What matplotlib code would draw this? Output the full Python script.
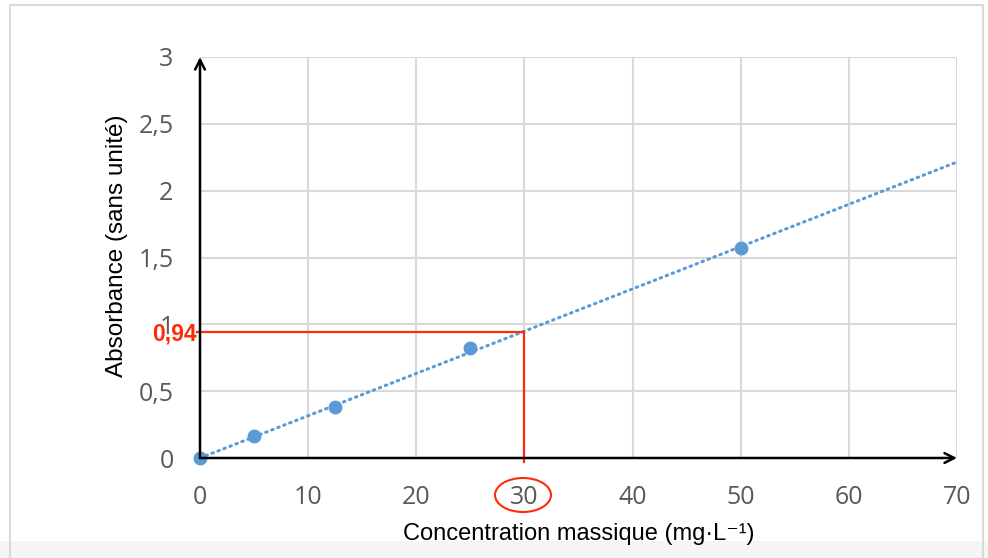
import numpy as np
import matplotlib
matplotlib.use("Agg")
import matplotlib.pyplot as plt
from matplotlib.patches import Ellipse, Rectangle

# Data
concentrations = [0, 5, 12.5, 25, 50]
absorbances = [0.0, 0.165, 0.38, 0.82, 1.57]
x_ticks = [0, 10, 20, 30, 40, 50, 60, 70]
y_ticks = [0, 0.5, 1, 1.5, 2, 2.5, 3]
y_tick_labels = ["0", "0,5", "1", "1,5", "2", "2,5", "3"]
read_conc = 30
read_abs = 0.94
read_label = "0,94"

blue = "#5b9bd5"
red = "#ff2a0a"
grid_c = "#d9d9d9"

fig = plt.figure(figsize=(9.88, 5.58), dpi=100)
W, H = 988, 558
ax = fig.add_axes([200 / W, 1 - 458 / H, (957 - 200) / W, (458 - 57) / H])

# frame and bottom band
fig.patches.append(Rectangle((0, 0), 1, 17 / H, transform=fig.transFigure,
                             facecolor="#f5f5f5", edgecolor="none", zorder=0))
fig.patches.append(Rectangle((10 / W, -0.05), (983 - 10) / W, 1.05 - 5 / H,
                             transform=fig.transFigure, facecolor="none",
                             edgecolor=grid_c, lw=1.5, zorder=1))

ax.set_xlim(0, 70)
ax.set_ylim(0, 3)
ax.set_xticks(x_ticks)
ax.set_yticks(y_ticks)
ax.set_yticklabels(y_tick_labels)
ax.grid(True, color=grid_c, lw=1.5)
ax.set_axisbelow(True)
for s in ax.spines.values():
    s.set_visible(False)
ax.tick_params(length=0, labelcolor="#595959", pad=0)
ax.tick_params(axis="x", pad=19.5)
ax.tick_params(axis="y", pad=19)
for lab in ax.get_xticklabels() + ax.get_yticklabels():
    lab.set_family("Open Sans")
    lab.set_fontsize(18)

# gridline at top/right
ax.axhline(3, color=grid_c, lw=1.5, zorder=0.5)
ax.axvline(70, color=grid_c, lw=1.5, zorder=0.5)

# trendline through origin (least squares)
xa = np.array(concentrations)
ya = np.array(absorbances)
slope = (xa * ya).sum() / (xa * xa).sum()
xt = np.array([0, 70])
ax.plot(xt, slope * xt, linestyle=(0, (0.5, 1.6)), color=blue, lw=2.2,
        dash_capstyle="round", zorder=3, clip_on=False)

ax.plot(concentrations, absorbances, "o", color=blue, ms=9, zorder=4, clip_on=False)

# axes arrows
ax.annotate("", xy=(0, 3), xytext=(0, 0),
            arrowprops=dict(arrowstyle="->,head_length=0.7,head_width=0.35", color="black", lw=1.8,
                            shrinkA=0, shrinkB=0), zorder=5, annotation_clip=False)
ax.annotate("", xy=(70, 0), xytext=(0, 0),
            arrowprops=dict(arrowstyle="->,head_length=0.7,head_width=0.35", color="black", lw=1.8,
                            shrinkA=0, shrinkB=0), zorder=5, annotation_clip=False)

# red reading lines
ax.plot([-0.3, read_conc], [read_abs, read_abs], color=red, lw=1.6, zorder=4, clip_on=False)
ax.plot([read_conc, read_conc], [read_abs, -0.03], color=red, lw=1.6, zorder=4, clip_on=False)
ax.text(-0.3, read_abs - 0.01, read_label, color=red, fontsize=16.5, fontweight="bold",
        family="Liberation Sans", ha="right", va="center", zorder=6)

fig.patches.append(Ellipse((523 / W, 1 - 495 / H), 56 / W, 34 / H, transform=fig.transFigure,
                           facecolor="none", edgecolor=red, lw=1.5, zorder=6))

fig.text(579 / W, 1 - 534 / H, "Concentration massique (mg·L\u207b\u00b9)", ha="center", va="center",
         fontsize=17, family=["Liberation Sans", "DejaVu Sans"])
fig.text(117 / W, 1 - 246 / H, "Absorbance (sans unité)", ha="center", va="center",
         rotation=90, fontsize=17.5, family="Liberation Sans")

fig.savefig("out.png", dpi=100)
